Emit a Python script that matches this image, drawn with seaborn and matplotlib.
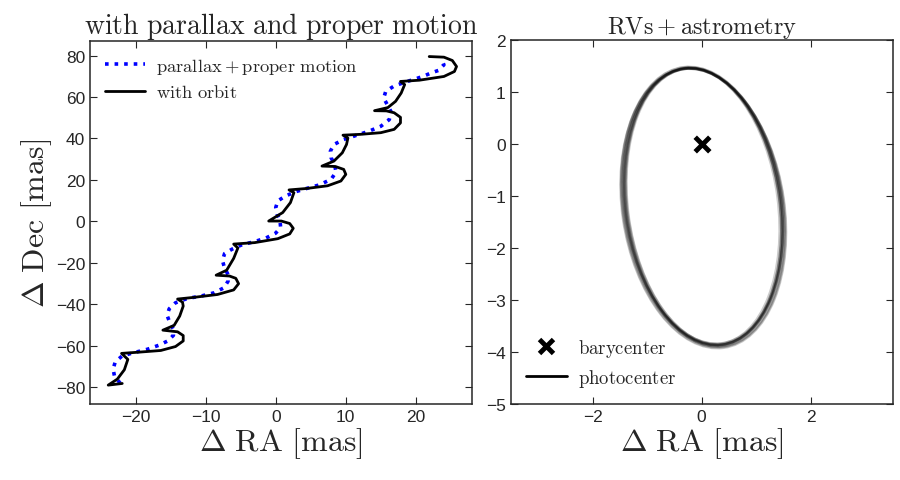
import matplotlib
matplotlib.use("Agg")
import matplotlib.pyplot as plt
from matplotlib.patches import Ellipse
from matplotlib.lines import Line2D
import seaborn as sns
import pandas as pd

# track with the orbit (bottom to top)
orbit_ra = [-21.9, -23.9, -22.6, -21.6, -21.1, -22.0, -19.5, -16.4, -14.3, -13.2, -13.2, -14.0, -16.1,
            -14.5, -13.7, -13.2, -13.3, -14.0, -11.7, -8.3, -6.0, -5.3, -5.7, -6.6, -8.5,
            -7.0, -6.0, -5.4, -6.0, -3.0, 0.3, 2.0, 2.5, 2.0, 0.8, -1.0,
            1.0, 2.1, 2.6, 1.9, 4.4, 7.4, 9.3, 10.0, 9.7, 8.5, 6.6,
            8.3, 9.5, 10.1, 10.3, 9.6, 12.1, 15.0, 16.9, 17.8, 17.8, 16.9, 15.8, 14.1,
            16.0, 17.1, 17.9, 18.4, 17.8, 20.5, 24.0, 25.5, 25.8, 25.2, 24.0, 21.9]
orbit_dec = [-78.1, -78.9, -76.0, -71.5, -66.5, -63.6, -63.0, -62.2, -60.3, -57.6, -55.0, -53.2, -52.4,
             -50.1, -45.6, -40.8, -38.9, -37.4, -36.6, -35.2, -33.0, -30.0, -27.4, -26.3, -25.9,
             -23.5, -17.8, -12.8, -10.9, -10.2, -8.3, -6.0, -3.3, -1.0, 0.2, 0.2,
             4.3, 9.1, 13.9, 15.2, 15.9, 17.2, 19.5, 22.7, 25.1, 26.5, 26.7,
             29.1, 33.1, 37.1, 40.2, 41.6, 42.0, 42.8, 44.4, 47.5, 50.2, 52.4, 53.3, 53.4,
             54.9, 57.9, 61.9, 66.0, 67.5, 68.1, 69.9, 72.3, 74.7, 77.6, 79.2, 79.5]

# parallax + proper motion only
plx_ra = [-22.2, -23.0, -23.2, -22.9, -21.9, -20.2, -18.3, -16.7, -15.4, -14.6, -14.6, -15.1, -15.5,
          -15.2, -14.3, -12.6, -10.7, -8.8, -7.4, -6.8, -6.8, -7.3, -7.6, -7.3, -6.2, -4.8, -3.1,
          -1.4, 0.0, 0.7, 0.6, 0.2, 0.0, 0.3, 1.4, 2.9, 4.5, 6.2, 7.9, 8.6, 8.4, 7.9, 7.8, 8.3,
          9.7, 11.4, 13.3, 15.0, 16.2, 16.5, 16.0, 15.4, 15.7, 16.8, 18.3, 20.1, 21.2, 22.1, 23.2,
          24.0, 23.6]
plx_dec = [-77.9, -74.7, -71.2, -67.7, -64.8, -63.2, -61.6, -59.7, -57.6, -54.9, -52.0, -48.8, -45.3,
           -42.1, -39.2, -37.1, -36.0, -34.4, -32.0, -28.8, -25.6, -22.4, -18.9, -15.5, -13.3, -11.2, -9.8,
           -8.0, -5.6, -2.9, 0.8, 3.5, 6.7, 9.9, 12.3, 14.4, 16.0, 17.6, 20.3, 23.8, 27.5, 30.7, 33.9, 37.1,
           39.5, 41.4, 43.5, 45.9, 49.1, 52.6, 55.8, 59.5, 62.7, 65.1, 67.0, 68.9, 70.2, 71.5, 72.8,
           75.5, 78.7]

# photocenter orbit samples (centre, full width/height, tilt in deg)
ell_cx = [0.03, 0.03, 0.02, 0.03, 0.04, 0.03, 0.02, 0.03, 0.04, 0.03, 0.03, 0.02]
ell_cy = [-1.20, -1.21, -1.19, -1.22, -1.20, -1.23, -1.18, -1.21, -1.22, -1.20, -1.24, -1.19]
ell_w = [2.86, 2.80, 2.92, 2.84, 2.78, 2.95, 2.88, 2.82, 2.90, 2.86, 2.97, 2.76]
ell_h = [5.36, 5.35, 5.38, 5.37, 5.34, 5.40, 5.35, 5.37, 5.39, 5.36, 5.41, 5.34]
ell_ang = [7.4, 7.2, 7.6, 7.3, 7.1, 7.8, 7.5, 7.2, 7.7, 7.4, 7.9, 7.1]

bary_ra = [0.0]
bary_dec = [0.0]

sns.set_style("ticks")
plt.rcParams["font.family"] = ["Liberation Sans", "DejaVu Sans"]
plt.rcParams["mathtext.fontset"] = "cm"
plt.rcParams["xtick.direction"] = "in"
plt.rcParams["ytick.direction"] = "in"
plt.rcParams["xtick.top"] = True
plt.rcParams["ytick.right"] = True
plt.rcParams["xtick.major.size"] = 5
plt.rcParams["ytick.major.size"] = 5
plt.rcParams["axes.linewidth"] = 1.1
plt.rcParams["xtick.labelsize"] = 12.5
plt.rcParams["ytick.labelsize"] = 12.5

fig = plt.figure(figsize=(9, 4.81), dpi=100)
ax1 = fig.add_axes([0.100, 0.158, 0.4244, 0.7547])
ax2 = fig.add_axes([0.5674, 0.158, 0.4244, 0.7568])

# left: parallax + proper motion
df_plx = pd.DataFrame({"ra": plx_ra, "dec": plx_dec})
df_orb = pd.DataFrame({"ra": orbit_ra, "dec": orbit_dec})
sns.lineplot(data=df_plx, x="ra", y="dec", sort=False, estimator=None, ax=ax1,
             color="blue", linestyle=":", linewidth=2.6,
             label=r"$\mathrm{parallax + proper\ motion}$")
sns.lineplot(data=df_orb, x="ra", y="dec", sort=False, estimator=None, ax=ax1,
             color="black", linewidth=2.0, label=r"$\mathrm{with\ orbit}$")
ax1.set_xlim(-26.5, 28)
ax1.set_ylim(-88, 87)
ax1.set_xticks([-20, -10, 0, 10, 20])
ax1.set_yticks([-80, -60, -40, -20, 0, 20, 40, 60, 80])
ax1.set_xlabel(r"$\Delta\ \mathrm{RA\ [mas]}$", fontsize=23, labelpad=1)
ax1.set_ylabel(r"$\Delta\ \mathrm{Dec\ [mas]}$", fontsize=23, labelpad=1)
ax1.set_title(r"$\mathrm{with\ parallax\ and\ proper\ motion}$", fontsize=20, pad=5)
ax1.legend(loc="upper left", frameon=False, fontsize=13.3, handlelength=2.2,
           handletextpad=0.6, borderaxespad=0.4, labelspacing=0.45)

# right: RVs + astrometry
for cx, cy, w, h, a in zip(ell_cx, ell_cy, ell_w, ell_h, ell_ang):
    ax2.add_patch(Ellipse((cx, cy), w, h, angle=a, fill=False,
                          edgecolor="black", linewidth=1.8, alpha=0.2))
sns.scatterplot(x=bary_ra, y=bary_dec, ax=ax2, marker="x", s=110,
                color="black", linewidth=3.5, zorder=5)
ax2.set_xlim(-3.5, 3.5)
ax2.set_ylim(-5, 2)
ax2.set_xticks([-2, 0, 2])
ax2.set_yticks([-5, -4, -3, -2, -1, 0, 1, 2])
ax2.set_xlabel(r"$\Delta\ \mathrm{RA\ [mas]}$", fontsize=23, labelpad=1)
ax2.set_title(r"$\mathrm{RVs + astrometry}$", fontsize=17.5, pad=5)
handles = [Line2D([], [], color="black", marker="x", linestyle="none",
                  markersize=10, markeredgewidth=3.5),
           Line2D([], [], color="black", linewidth=2.0)]
ax2.legend(handles, [r"$\mathrm{barycenter}$", r"$\mathrm{photocenter}$"],
           loc="lower left", frameon=False, fontsize=13.5, handlelength=2.2,
           handletextpad=0.6, borderaxespad=0.4, labelspacing=0.45)

fig.savefig("out.png", dpi=100)
